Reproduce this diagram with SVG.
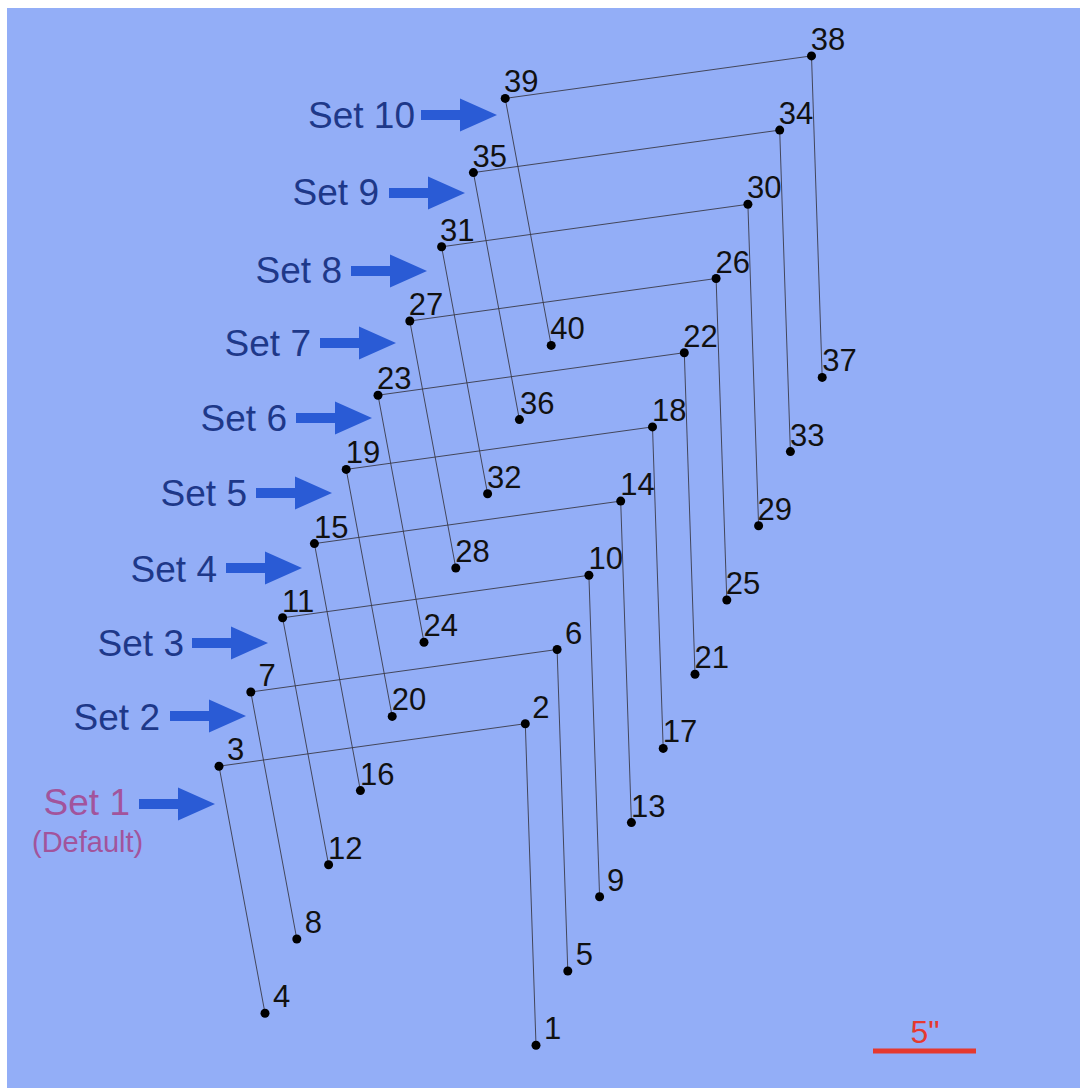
<svg xmlns="http://www.w3.org/2000/svg" width="1080" height="1088" viewBox="0 0 1080 1088">
<style>
.ln{fill:none;stroke:#3a3a48;stroke-width:0.9}
.dot{fill:#000}
.num{font-family:"Liberation Sans",Arial,sans-serif;font-size:31px;fill:#111}
.set{font-family:"Liberation Sans",Arial,sans-serif;font-size:37px;fill:#1E3889;text-anchor:end}
.set1{fill:#A2549C}
.arr{fill:#2A5BD5}
</style>
<defs>
<polygon id="arrow" points="-76,-5 -37,-5 -37,-16.5 0,0 -37,16.5 -37,5 -76,5"/>
</defs>
<rect x="0" y="0" width="1080" height="1088" fill="#ffffff"/>
<rect x="7" y="8" width="1073" height="1080" fill="#93AEF7"/>
<g id="connectors">
<polyline class="ln" points="536,1045.2 525.3,723.7 219,766.2 265,1013.2"/>
<polyline class="ln" points="567.8,971 557.1,649.5 250.8,692 296.8,939"/>
<polyline class="ln" points="599.6,896.8 588.9,575.3 282.6,617.8 328.6,864.8"/>
<polyline class="ln" points="631.4,822.6 620.7,501.1 314.4,543.6 360.4,790.6"/>
<polyline class="ln" points="663.2,748.4 652.5,426.9 346.2,469.4 392.2,716.4"/>
<polyline class="ln" points="695,674.2 684.3,352.7 378,395.2 424,642.2"/>
<polyline class="ln" points="726.8,600 716.1,278.5 409.8,321 455.8,568"/>
<polyline class="ln" points="758.6,525.8 747.9,204.3 441.6,246.8 487.6,493.8"/>
<polyline class="ln" points="790.4,451.6 779.7,130.1 473.4,172.6 519.4,419.6"/>
<polyline class="ln" points="822.2,377.4 811.5,55.9 505.2,98.4 551.2,345.4"/>
</g>
<g id="nodes">
<g id="n1"><circle class="dot" cx="536" cy="1045.2" r="4.5"/><text class="num" x="544" y="1039.2">1</text></g>
<g id="n2"><circle class="dot" cx="525.3" cy="723.7" r="4.5"/><text class="num" x="532.3" y="717.7">2</text></g>
<g id="n3"><circle class="dot" cx="219" cy="766.2" r="4.5"/><text class="num" x="227" y="760.2">3</text></g>
<g id="n4"><circle class="dot" cx="265" cy="1013.2" r="4.5"/><text class="num" x="273" y="1007.2">4</text></g>
<g id="n5"><circle class="dot" cx="567.8" cy="971" r="4.5"/><text class="num" x="575.8" y="965">5</text></g>
<g id="n6"><circle class="dot" cx="557.1" cy="649.5" r="4.5"/><text class="num" x="565.1" y="643.5">6</text></g>
<g id="n7"><circle class="dot" cx="250.8" cy="692" r="4.5"/><text class="num" x="258.5" y="686">7</text></g>
<g id="n8"><circle class="dot" cx="296.8" cy="939" r="4.5"/><text class="num" x="304.8" y="933">8</text></g>
<g id="n9"><circle class="dot" cx="599.6" cy="896.8" r="4.5"/><text class="num" x="607" y="890.8">9</text></g>
<g id="n10"><circle class="dot" cx="588.9" cy="575.3" r="4.5"/><text class="num" x="588.4" y="569.3">10</text></g>
<g id="n11"><circle class="dot" cx="282.6" cy="617.8" r="4.5"/><text class="num" x="282.1" y="611.8">11</text></g>
<g id="n12"><circle class="dot" cx="328.6" cy="864.8" r="4.5"/><text class="num" x="328.1" y="858.8">12</text></g>
<g id="n13"><circle class="dot" cx="631.4" cy="822.6" r="4.5"/><text class="num" x="630.9" y="816.6">13</text></g>
<g id="n14"><circle class="dot" cx="620.7" cy="501.1" r="4.5"/><text class="num" x="620.2" y="495.1">14</text></g>
<g id="n15"><circle class="dot" cx="314.4" cy="543.6" r="4.5"/><text class="num" x="313.9" y="537.6">15</text></g>
<g id="n16"><circle class="dot" cx="360.4" cy="790.6" r="4.5"/><text class="num" x="359.9" y="784.6">16</text></g>
<g id="n17"><circle class="dot" cx="663.2" cy="748.4" r="4.5"/><text class="num" x="662.7" y="742.4">17</text></g>
<g id="n18"><circle class="dot" cx="652.5" cy="426.9" r="4.5"/><text class="num" x="652" y="420.9">18</text></g>
<g id="n19"><circle class="dot" cx="346.2" cy="469.4" r="4.5"/><text class="num" x="345.7" y="463.4">19</text></g>
<g id="n20"><circle class="dot" cx="392.2" cy="716.4" r="4.5"/><text class="num" x="391.7" y="710.4">20</text></g>
<g id="n21"><circle class="dot" cx="695" cy="674.2" r="4.5"/><text class="num" x="694.5" y="668.2">21</text></g>
<g id="n22"><circle class="dot" cx="684.3" cy="352.7" r="4.5"/><text class="num" x="683.3" y="346.7">22</text></g>
<g id="n23"><circle class="dot" cx="378" cy="395.2" r="4.5"/><text class="num" x="377" y="389.2">23</text></g>
<g id="n24"><circle class="dot" cx="424" cy="642.2" r="4.5"/><text class="num" x="423.5" y="636.2">24</text></g>
<g id="n25"><circle class="dot" cx="726.8" cy="600" r="4.5"/><text class="num" x="725.8" y="594">25</text></g>
<g id="n26"><circle class="dot" cx="716.1" cy="278.5" r="4.5"/><text class="num" x="715.6" y="272.5">26</text></g>
<g id="n27"><circle class="dot" cx="409.8" cy="321" r="4.5"/><text class="num" x="408.8" y="315">27</text></g>
<g id="n28"><circle class="dot" cx="455.8" cy="568" r="4.5"/><text class="num" x="455.3" y="562">28</text></g>
<g id="n29"><circle class="dot" cx="758.6" cy="525.8" r="4.5"/><text class="num" x="757.6" y="519.8">29</text></g>
<g id="n30"><circle class="dot" cx="747.9" cy="204.3" r="4.5"/><text class="num" x="746.9" y="198.3">30</text></g>
<g id="n31"><circle class="dot" cx="441.6" cy="246.8" r="4.5"/><text class="num" x="440.1" y="240.8">31</text></g>
<g id="n32"><circle class="dot" cx="487.6" cy="493.8" r="4.5"/><text class="num" x="487.1" y="487.8">32</text></g>
<g id="n33"><circle class="dot" cx="790.4" cy="451.6" r="4.5"/><text class="num" x="789.9" y="445.6">33</text></g>
<g id="n34"><circle class="dot" cx="779.7" cy="130.1" r="4.5"/><text class="num" x="778.7" y="124.1">34</text></g>
<g id="n35"><circle class="dot" cx="473.4" cy="172.6" r="4.5"/><text class="num" x="472.4" y="166.6">35</text></g>
<g id="n36"><circle class="dot" cx="519.4" cy="419.6" r="4.5"/><text class="num" x="519.9" y="413.6">36</text></g>
<g id="n37"><circle class="dot" cx="822.2" cy="377.4" r="4.5"/><text class="num" x="822.2" y="371.4">37</text></g>
<g id="n38"><circle class="dot" cx="811.5" cy="55.9" r="4.5"/><text class="num" x="810.8" y="49.9">38</text></g>
<g id="n39"><circle class="dot" cx="505.2" cy="98.4" r="4.5"/><text class="num" x="504" y="92.4">39</text></g>
<g id="n40"><circle class="dot" cx="551.2" cy="345.4" r="4.5"/><text class="num" x="550.2" y="339.4">40</text></g>
</g>
<g id="set-labels">
<g id="set1"><text class="set set1" x="130" y="815">Set 1</text><text class="set1" x="32" y="852" style="font-family:'Liberation Sans',Arial,sans-serif;font-size:29px">(Default)</text><use href="#arrow" class="arr" x="215" y="804"/></g>
<g id="set2"><text class="set" x="160" y="730">Set 2</text><use href="#arrow" class="arr" x="246" y="716"/></g>
<g id="set3"><text class="set" x="184" y="656">Set 3</text><use href="#arrow" class="arr" x="268" y="643"/></g>
<g id="set4"><text class="set" x="217" y="582">Set 4</text><use href="#arrow" class="arr" x="302" y="568"/></g>
<g id="set5"><text class="set" x="247" y="506">Set 5</text><use href="#arrow" class="arr" x="332" y="493"/></g>
<g id="set6"><text class="set" x="287" y="431">Set 6</text><use href="#arrow" class="arr" x="372" y="418"/></g>
<g id="set7"><text class="set" x="311" y="356">Set 7</text><use href="#arrow" class="arr" x="396" y="343"/></g>
<g id="set8"><text class="set" x="342" y="283">Set 8</text><use href="#arrow" class="arr" x="427" y="271"/></g>
<g id="set9"><text class="set" x="379" y="205">Set 9</text><use href="#arrow" class="arr" x="465" y="193"/></g>
<g id="set10"><text class="set" x="415" y="128">Set 10</text><use href="#arrow" class="arr" x="497" y="115"/></g>
</g>
<g id="scale">
<line x1="873" y1="1051" x2="976" y2="1051" stroke="#E5392F" stroke-width="5"/>
<text x="925" y="1043" text-anchor="middle" style="font-family:'Liberation Sans',Arial,sans-serif;font-size:32px;fill:#E5392F">5"</text>
</g>
</svg>
